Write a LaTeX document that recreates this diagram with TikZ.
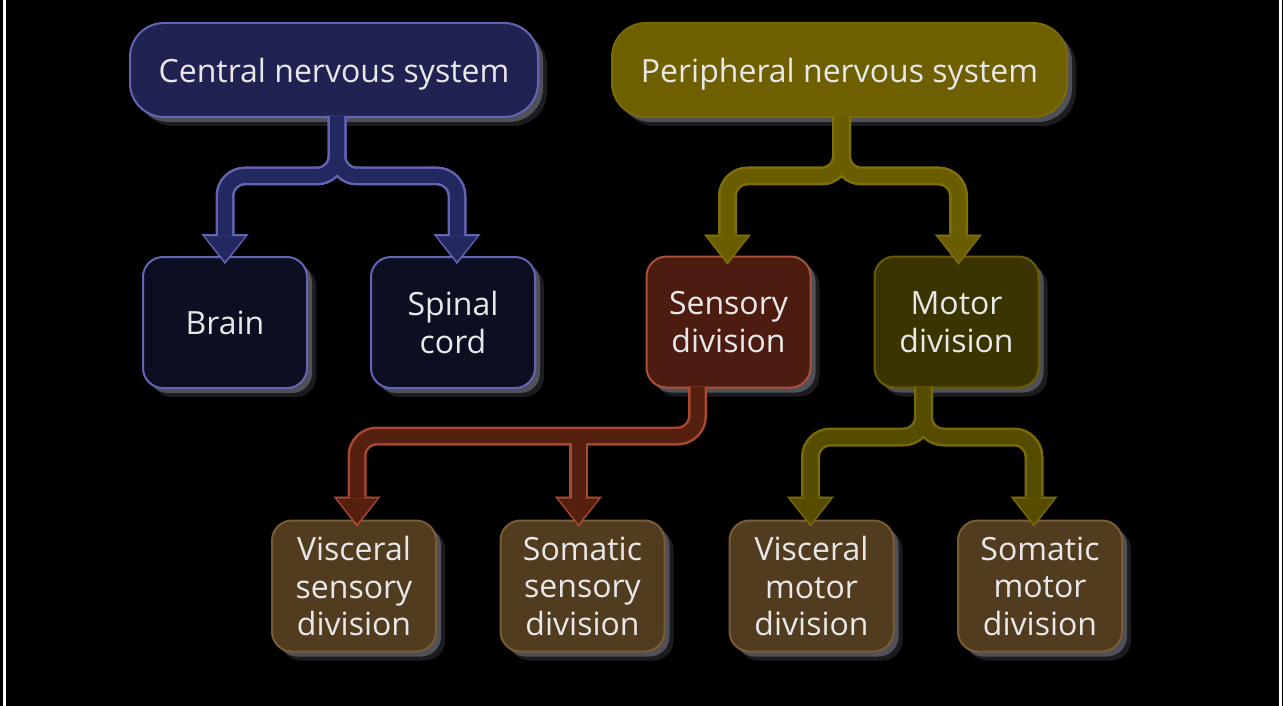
\documentclass[tikz,border=0pt]{standalone}
\usepackage{fontspec}
\setmainfont{Open Sans}
\usetikzlibrary{arrows.meta,shadows}
\pgfdeclarelayer{shadowlayer}
\pgfsetlayers{shadowlayer,main}
\definecolor{txt}{RGB}{232,232,232}
\definecolor{shA}{RGB}{28,28,32}
\definecolor{shB}{RGB}{80,80,88}
\definecolor{cnsfill}{RGB}{32,34,82}
\definecolor{cnsline}{RGB}{100,100,180}
\definecolor{brainfill}{RGB}{12,14,34}
\definecolor{pnsfill}{RGB}{110,96,0}
\definecolor{pnsline}{RGB}{122,106,8}
\definecolor{sensfill}{RGB}{76,28,16}
\definecolor{sensline}{RGB}{168,80,58}
\definecolor{motfill}{RGB}{58,52,0}
\definecolor{motline}{RGB}{105,92,0}
\definecolor{subfill}{RGB}{82,60,32}
\definecolor{subline}{RGB}{122,92,52}
\definecolor{cnsAo}{RGB}{100,100,180}
\definecolor{cnsAi}{RGB}{36,40,96}
\definecolor{pnsAo}{RGB}{128,112,10}
\definecolor{pnsAi}{RGB}{106,93,0}
\definecolor{sensAo}{RGB}{170,72,48}
\definecolor{sensAi}{RGB}{86,32,16}
\definecolor{motAo}{RGB}{120,105,10}
\definecolor{motAi}{RGB}{86,76,0}
\begin{document}
\begin{tikzpicture}[x=1pt,y=-1pt,
  boxshadow/.style={general shadow={shadow xshift=9pt,shadow yshift=-9pt,fill=shA},
                    general shadow={shadow xshift=5pt,shadow yshift=-5pt,fill=shB}},
  basebox/.style={rectangle,rounded corners=20pt,line width=2pt,inner sep=0pt,align=center,
                  text=txt,font=\fontsize{32}{37.5}\selectfont,boxshadow},
  smallbox/.style={basebox,minimum width=164pt,minimum height=131pt},
  topbox/.style={basebox,rounded corners=34pt,minimum height=94pt,text depth=0pt},
  pipeout/.style={line width=19pt,draw=#1,rounded corners=20pt,
                  -{Triangle[width=47pt,length=30pt,line width=0.1pt]}},
  pipein/.style={line width=14pt,draw=#1,rounded corners=20pt,shorten >=2.8pt,
                 -{Triangle[width=40pt,length=25pt,line width=0.1pt]}},
  stubout/.style={line width=19pt,draw=#1,
                  -{Triangle[width=47pt,length=30pt,line width=0.1pt]}},
  stubin/.style={line width=14pt,draw=#1,shorten >=2.8pt,
                 -{Triangle[width=40pt,length=25pt,line width=0.1pt]}},
  pipeshadow/.style={pipeout=shB,transform canvas={xshift=5pt,yshift=-5pt}},
  stubshadow/.style={stubout=shB,transform canvas={xshift=5pt,yshift=-5pt}}]
\useasboundingbox (0,0) rectangle (1283,706);
\fill[black] (0,0) rectangle (1283,706);
\fill[white] (3.3,0) rectangle (6,706);
\fill[white] (1279,0) rectangle (1282,706);

% boxes
\node[topbox,minimum width=408pt,draw=cnsline,fill=cnsfill] (cns) at (334,70) {Central nervous system};
\node[topbox,minimum width=455pt,draw=pnsline,fill=pnsfill] (pns) at (839.5,70) {Peripheral nervous system};
\node[smallbox,draw=cnsline,fill=brainfill] (brain) at (225,322.5) {Brain};
\node[smallbox,draw=cnsline,fill=brainfill] (spinal) at (453,322.5) {Spinal\\cord};
\node[smallbox,draw=sensline,fill=sensfill] (sens) at (728.5,322) {Sensory\\division};
\node[smallbox,draw=motline,fill=motfill] (motor) at (956.5,322) {Motor\\division};
\node[smallbox,draw=subline,fill=subfill] (vsens) at (354,586) {Visceral\\sensory\\division};
\node[smallbox,draw=subline,fill=subfill] (ssens) at (582.5,586) {Somatic\\sensory\\division};
\node[smallbox,draw=subline,fill=subfill] (vmot) at (811.5,586) {Visceral\\motor\\division};
\node[smallbox,draw=subline,fill=subfill] (smot) at (1040,586) {Somatic\\motor\\division};

\path (ssens.north) ++(-4,-85.5) coordinate (sj);

% connector paths
\def\cnsA{([xshift=3pt,yshift=2pt]cns.south) -- ++(0,60) -| ([yshift=-8pt]brain.north)}
\def\cnsB{([xshift=3pt,yshift=2pt]cns.south) -- ++(0,60) -| ([xshift=4pt,yshift=-8pt]spinal.north)}
\def\pnsA{([xshift=2pt,yshift=2pt]pns.south) -- ++(0,60) -| ([xshift=-1pt,yshift=-9pt]sens.north)}
\def\pnsB{([xshift=2pt,yshift=2pt]pns.south) -- ++(0,60) -| ([xshift=2pt,yshift=-9pt]motor.north)}
\def\sensA{([xshift=-31pt,yshift=2pt]sens.south) -- ++(0,49.5) -| ([xshift=3pt,yshift=-7pt]vsens.north)}
\def\sensB{(sj) -- ([xshift=-4pt,yshift=-7pt]ssens.north)}
\def\motA{([xshift=-33pt,yshift=2pt]motor.south) -- ++(0,50.5) -| ([xshift=-1pt,yshift=-7pt]vmot.north)}
\def\motB{([xshift=-33pt,yshift=2pt]motor.south) -- ++(0,50.5) -| ([xshift=-6pt,yshift=-7pt]smot.north)}

\begin{pgfonlayer}{shadowlayer}
\draw[pipeshadow] \cnsA; \draw[pipeshadow] \cnsB;
\draw[pipeshadow] \pnsA; \draw[pipeshadow] \pnsB;
\draw[pipeshadow] \sensA; \draw[stubshadow] \sensB;
\draw[pipeshadow] \motA; \draw[pipeshadow] \motB;
\end{pgfonlayer}

\draw[pipeout=cnsAo] \cnsA; \draw[pipeout=cnsAo] \cnsB;
\draw[pipein=cnsAi] \cnsA; \draw[pipein=cnsAi] \cnsB;
\draw[pipeout=pnsAo] \pnsA; \draw[pipeout=pnsAo] \pnsB;
\draw[pipein=pnsAi] \pnsA; \draw[pipein=pnsAi] \pnsB;
\draw[pipeout=sensAo] \sensA; \draw[stubout=sensAo] \sensB;
\draw[pipein=sensAi] \sensA; \draw[stubin=sensAi] \sensB;
\draw[pipeout=motAo] \motA; \draw[pipeout=motAo] \motB;
\draw[pipein=motAi] \motA; \draw[pipein=motAi] \motB;
\end{tikzpicture}
\end{document}
